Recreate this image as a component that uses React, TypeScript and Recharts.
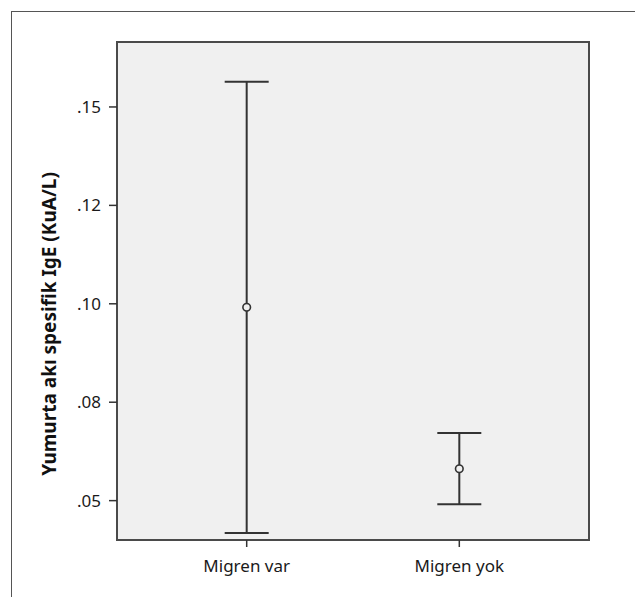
import React from "react";
import {ComposedChart, Scatter, ErrorBar, XAxis, YAxis, ReferenceArea, Label} from "recharts";

// group names and the 95% CI of each group
const groups = ["Migren var", "Migren yok"];
const means = [0.0991, 0.0581];
const lowers = [0.0418, 0.0491];
const uppers = [0.1564, 0.0672];

const yTicks = [0.05, 0.075, 0.1, 0.125, 0.15];
const yTickLabels = [".05", ".08", ".10", ".12", ".15"];
const yDomain = [0.04, 0.1665];
const xDomain = [-0.61, 1.61];

const yTitle = "Yumurta akı spesifik IgE (KuA/L)";

const data = groups.map((name, i) => ({
    x: i,
    name,
    mean: means[i],
    err: [means[i] - lowers[i], uppers[i] - means[i]],
}));

const FONT = "'Noto Sans', 'Open Sans', sans-serif";
const INK = "#333";

const MeanMarker = (props: any) => (
    <circle cx={props.cx} cy={props.cy} r={3.8} fill="#f0f0f0" stroke={INK} strokeWidth={1.6}/>
);

const YTitle = () => (
    <text
        x={49}
        y={324}
        transform="rotate(-90 49 324)"
        textAnchor="middle"
        dominantBaseline="central"
        fontFamily={FONT}
        fontWeight="bold"
        fontSize={19}
        fill="#111"
    >
        {yTitle}
    </text>
);

const App = (): JSX.Element => {
    return (
        <div style={{position: "absolute", left: 0, top: 0, width: 635, height: 597, overflow: "hidden", background: "#fff"}}>
            <div style={{
                position: "absolute", left: 11, top: 11, width: 700, height: 700,
                borderLeft: "1.5px solid #555", borderTop: "1.5px solid #555",
            }}/>
            <ComposedChart
                width={635}
                height={597}
                data={data}
                margin={{top: 42, right: 46, bottom: 27, left: 0}}
                style={{position: "absolute", left: 0, top: 0}}
            >
                <XAxis
                    type="number"
                    dataKey="x"
                    domain={xDomain}
                    ticks={[0, 1]}
                    tickFormatter={(v: number) => groups[v] ?? ""}
                    height={30}
                    tickSize={7}
                    tickMargin={13}
                    axisLine={false}
                    tickLine={{stroke: INK, strokeWidth: 1.5}}
                    tick={{fontFamily: FONT, fontSize: 17, fill: "#1a1a1a"}}
                    allowDataOverflow
                />
                <YAxis
                    type="number"
                    domain={yDomain}
                    ticks={yTicks}
                    tickFormatter={(v: number) => yTickLabels[yTicks.indexOf(v)] ?? ""}
                    width={117}
                    tickSize={8}
                    tickMargin={8}
                    axisLine={false}
                    tickLine={{stroke: INK, strokeWidth: 1.5}}
                    tick={{fontFamily: FONT, fontSize: 17, fill: "#1a1a1a"}}
                    allowDataOverflow
                >
                    <Label content={<YTitle/>}/>
                </YAxis>
                <ReferenceArea
                    x1={xDomain[0]}
                    x2={xDomain[1]}
                    y1={yDomain[0]}
                    y2={yDomain[1]}
                    fill="#f0f0f0"
                    fillOpacity={1}
                    stroke="#4a4a4a"
                    strokeWidth={2}
                />
                <Scatter dataKey="mean" shape={<MeanMarker/>} isAnimationActive={false}>
                    <ErrorBar dataKey="err" direction="y" width={22} stroke={INK} strokeWidth={2} isAnimationActive={false}/>
                </Scatter>
            </ComposedChart>
        </div>
    );
};

export default App;
